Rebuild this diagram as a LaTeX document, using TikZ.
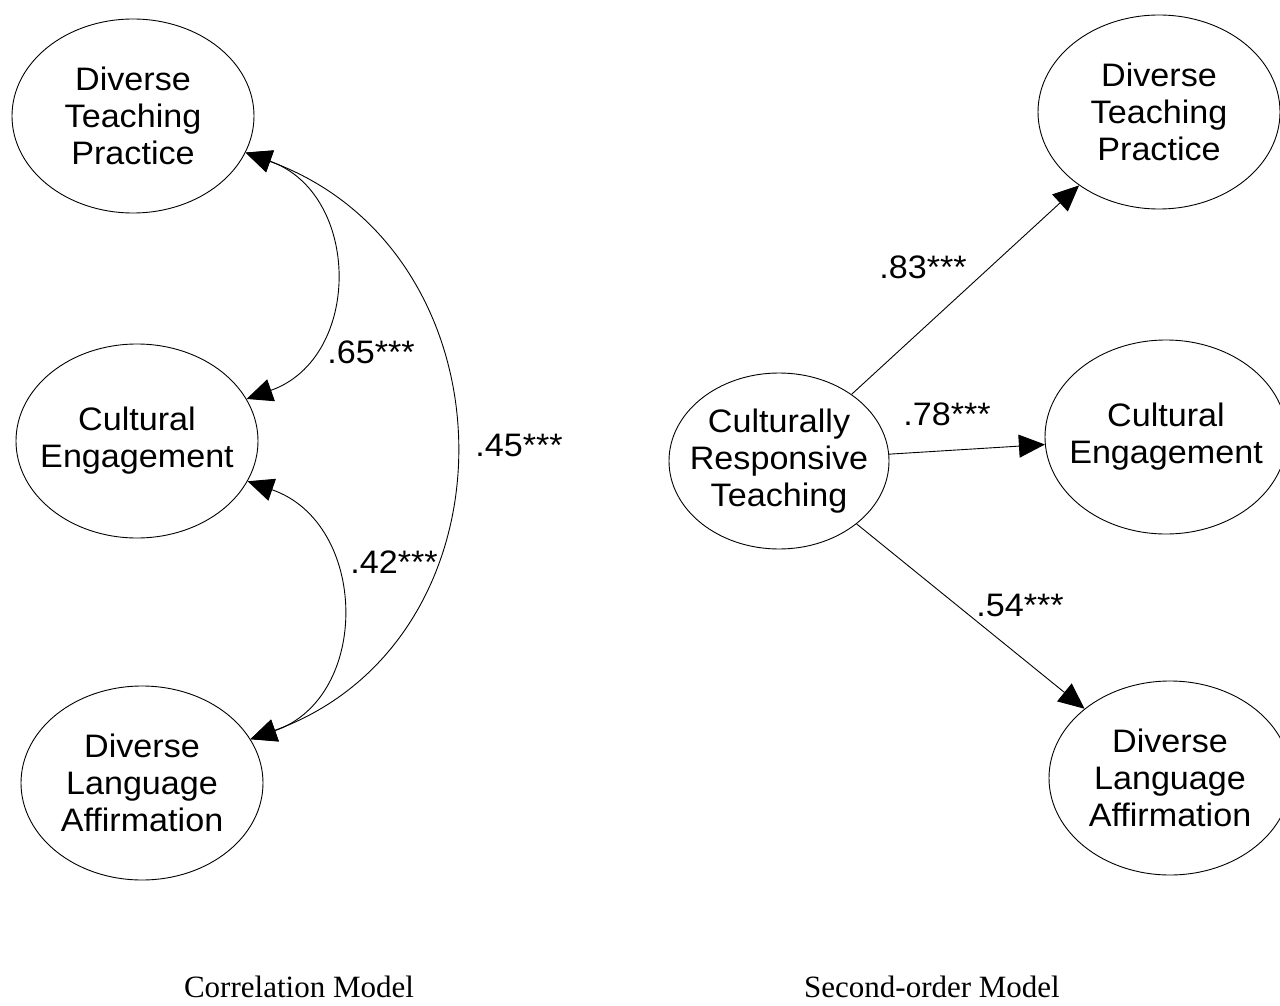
\documentclass[tikz,border=0pt]{standalone}
\usepackage{fontspec}
\setmainfont{Liberation Sans}
\newfontfamily\nodefont[FakeStretch=1.05]{Liberation Sans}
\newfontfamily\capfont{Liberation Serif}
\usetikzlibrary{shapes.geometric,arrows.meta}
\begin{document}
\begin{tikzpicture}[x=1pt,y=-1pt,
  latent/.style={draw, ellipse, line width=0.9pt, minimum width=242pt, minimum height=194pt, inner sep=0pt},
  crtshape/.style={draw, ellipse, line width=0.9pt, minimum width=220pt, minimum height=176pt, inner sep=0pt},
  lbl/.style={align=center, inner sep=0pt, font=\nodefont\fontsize{32.5}{37}\selectfont},
  coef/.style={inner sep=0pt, font=\nodefont\fontsize{32.5}{37}\selectfont},
  captext/.style={inner sep=0pt, font=\capfont\fontsize{31}{36}\selectfont},
  biarrow/.style={draw, line width=0.9pt, arrows={Triangle[length=26pt,width=23pt]-Triangle[length=26pt,width=23pt]}},
  onearrow/.style={draw, line width=0.9pt, arrows={-Triangle[length=26pt,width=23pt]}}
]
\useasboundingbox (0,0) rectangle (1280,1006);

% Left: correlation model
\node[latent] (dtpL) at (133,116) {};
\node[lbl] (dtpLt) at (dtpL) {Diverse\\Teaching\\Practice};
\node[latent] (ceL) at (137,441) {};
\node[lbl] (ceLt) at (ceL) {Cultural\\Engagement};
\node[latent] (dlaL) at (142,783) {};
\node[lbl] (dlaLt) at (dlaL) {Diverse\\Language\\Affirmation};

\draw[biarrow] (dtpL.-18) .. controls +(116,41) and +(116,-41) .. (ceL.21);
\draw[biarrow] (ceL.-20) .. controls +(121,42) and +(121,-42) .. (dlaL.22);
\draw[biarrow] (dtpL.-18) .. controls +(273,99) and +(273,-99) .. (dlaL.22);

\node[coef] (c65) at (371,352) {.65***};
\node[coef] (c42) at (394,562) {.42***};
\node[coef] (c45) at (519,445) {.45***};

% Right: second-order model
\node[crtshape] (crt) at (779,461) {};
\node[lbl] (crtt) at (crt) {Culturally\\Responsive\\Teaching};
\node[latent] (dtpR) at (1159,112) {};
\node[lbl] (dtpRt) at (dtpR) {Diverse\\Teaching\\Practice};
\node[latent] (ceR) at (1166,437) {};
\node[lbl] (ceRt) at (ceR) {Cultural\\Engagement};
\node[latent] (dlaR) at (1170,778) {};
\node[lbl] (dlaRt) at (dlaR) {Diverse\\Language\\Affirmation};

\draw[onearrow] (crt) -- (dtpR);
\draw[onearrow] (crt) -- (ceR);
\draw[onearrow] (crt) -- (dlaR);

\node[coef] (c83) at (923,267) {.83***};
\node[coef] (c78) at (947,414) {.78***};
\node[coef] (c54) at (1020,605) {.54***};

% Captions
\node[captext] (capL) at (299,987) {Correlation Model};
\node[captext] (capR) at (932,987) {Second-order Model};
\end{tikzpicture}
\end{document}
